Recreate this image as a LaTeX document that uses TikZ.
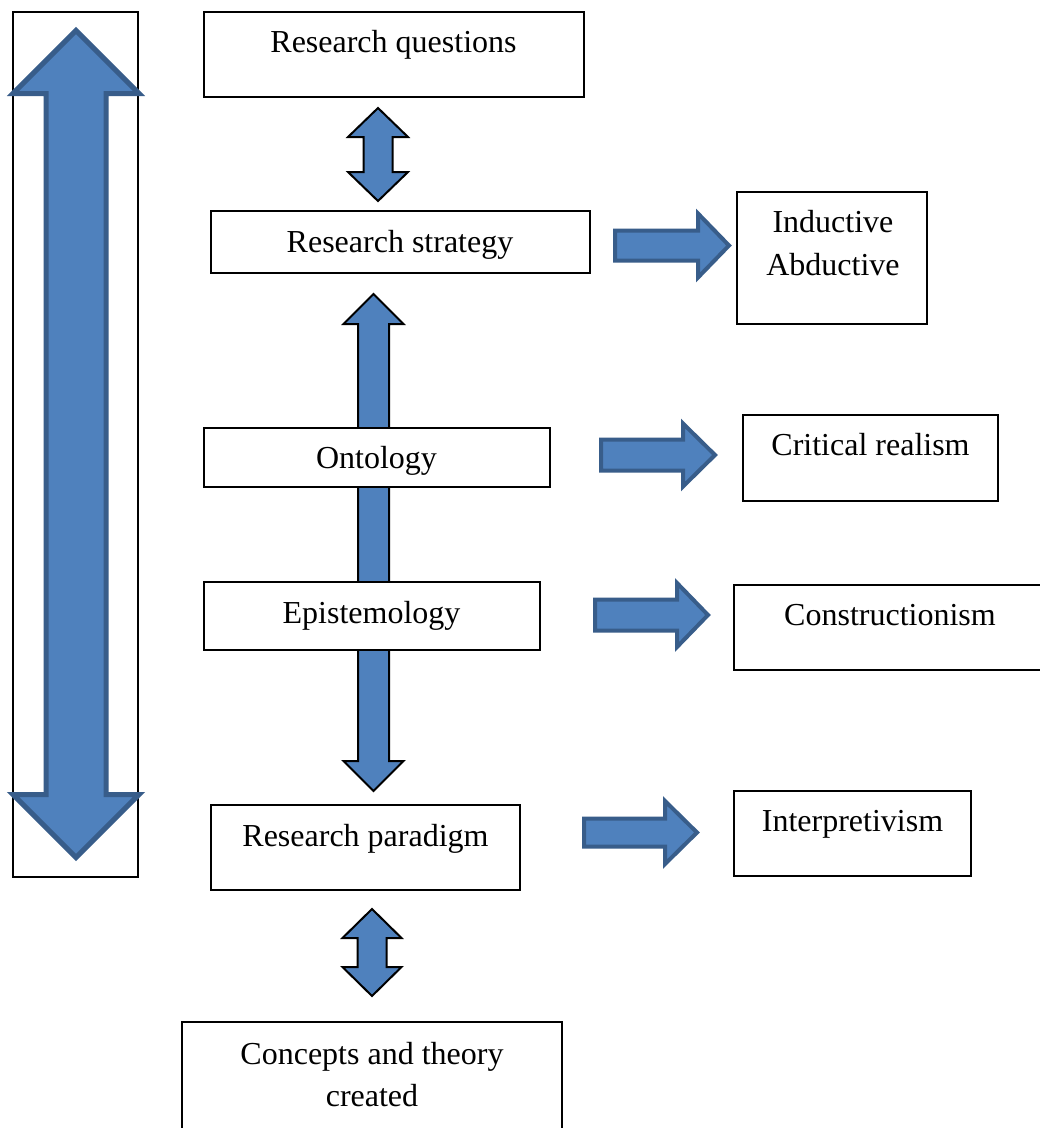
\documentclass[tikz,border=0pt]{standalone}
\usepackage{fontspec}
\setmainfont{Liberation Serif}
\usetikzlibrary{fit}
\definecolor{afill}{HTML}{4F81BD}
\definecolor{aline}{HTML}{385D8A}
\tikzset{
  box/.style={draw=black, line width=1.2pt, fill=white, inner sep=0pt},
  lbl/.style={anchor=base, inner sep=0pt, font=\fontsize{32}{36}\selectfont},
  bluearrow/.style={fill=afill, draw=aline, line width=4pt, line join=miter},
  bigarrow/.style={fill=afill, draw=aline, line width=5pt, line join=miter},
  blackarrow/.style={fill=afill, draw=black, line width=2pt, line join=miter},
}
% style, x1, x2, yc, shafthalf, headhalf, headbase
\newcommand\rightblock[7]{%
  \draw[#1] ({#2},{#4-#5}) -- ({#7},{#4-#5}) -- ({#7},{#4-#6}) -- ({#3},{#4})
    -- ({#7},{#4+#6}) -- ({#7},{#4+#5}) -- ({#2},{#4+#5}) -- cycle;}
% style, xc, ytop, ybot, shafthalf, headhalf, headlen
\newcommand\vdouble[7]{%
  \draw[#1] ({#2},{#3}) -- ({#2+#6},{#3+#7}) -- ({#2+#5},{#3+#7}) -- ({#2+#5},{#4-#7})
    -- ({#2+#6},{#4-#7}) -- ({#2},{#4}) -- ({#2-#6},{#4-#7}) -- ({#2-#5},{#4-#7})
    -- ({#2-#5},{#3+#7}) -- ({#2-#6},{#3+#7}) -- cycle;}
\begin{document}
\begin{tikzpicture}[x=1pt,y=-1pt]
\useasboundingbox (0,0) rectangle (1040,1128);
\clip (0,0) rectangle (1040,1128);
\fill[white] (0,0) rectangle (1040,1128);

% left frame and big arrow
\node[box, fit={(13,12) (138,877)}] (frame) {};
\vdouble{bigarrow}{76}{30.5}{857.5}{30}{63}{63}

% long vertical arrow behind ontology / epistemology
\vdouble{blackarrow}{373.5}{294}{791}{15.5}{30}{30}

% boxes
\node[box, fit={(204,12) (584,97)}] (rq) {};
\node[lbl] (rqt) at (393.5,52.5) {Research questions};

\node[box, fit={(211,211) (590,273)}] (rs) {};
\node[lbl] (rst) at (400,252.5) {Research strategy};

\node[box, fit={(737,192) (927,324)}] (ind) {};
\node[lbl] (indt1) at (833,232.5) {Inductive};
\node[lbl] (indt2) at (833,275.5) {Abductive};

\node[box, fit={(204,428) (550,487)}] (ont) {};
\node[lbl] (ontt) at (376.5,468.5) {Ontology};

\node[box, fit={(743,415) (998,501)}] (cr) {};
\node[lbl] (crt) at (870.5,455.5) {Critical realism};

\node[box, fit={(204,582) (540,650)}] (epi) {};
\node[lbl] (epit) at (371.5,623.5) {Epistemology};

\node[box, fit={(734,585) (1050,670)}] (con) {};
\node[lbl] (cont) at (890,625.5) {Constructionism};

\node[box, fit={(211,805) (520,890)}] (rp) {};
\node[lbl] (rpt) at (365.5,846.5) {Research paradigm};

\node[box, fit={(734,791) (971,876)}] (int) {};
\node[lbl] (intt) at (852.5,831.5) {Interpretivism};

\node[box, fit={(182,1022) (562,1140)}] (cpt) {};
\node[lbl] (cptt1) at (372,1064.5) {Concepts and theory};
\node[lbl] (cptt2) at (372,1106.5) {created};

% small double arrows
\vdouble{blackarrow}{378}{108}{201}{14.5}{30}{29}
\vdouble{blackarrow}{372}{909}{996}{14.5}{29.5}{29}

% right arrows
\rightblock{bluearrow}{615}{729}{245.5}{15}{32}{698}
\rightblock{bluearrow}{601}{715}{455}{15.5}{31.5}{683}
\rightblock{bluearrow}{595}{708}{615}{15.5}{32}{677}
\rightblock{bluearrow}{584}{697}{832.5}{14}{31.5}{665}
\end{tikzpicture}
\end{document}
